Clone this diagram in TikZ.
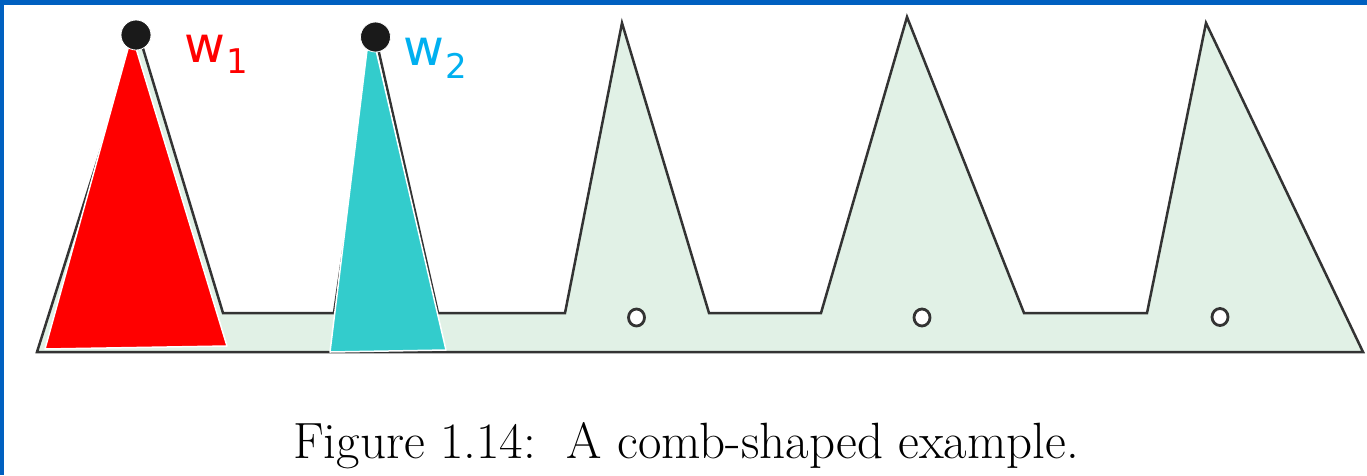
\documentclass[tikz,border=0pt]{standalone}
\usepackage{fontspec}
\newfontfamily\labelfont{DejaVu Sans}
\definecolor{frameblue}{HTML}{0060C0}
\definecolor{combfill}{HTML}{E1F1E6}
\definecolor{combline}{HTML}{333333}
\definecolor{redw}{HTML}{FF0000}
\definecolor{cyanw}{HTML}{33CCCC}
\definecolor{cyantext}{HTML}{00B0F0}
\definecolor{dotblack}{HTML}{1A1A1A}
\tikzset{
  comb/.style={fill=combfill, draw=combline, line width=2.5pt, line join=miter},
  hole/.style={fill=white, draw=combline, line width=2.8pt},
  wtri/.style={draw=white, line width=1.5pt, line join=round},
  vdot/.style={fill=dotblack, draw=white, line width=0.8pt},
  wlabel/.style={anchor=base west, inner sep=0pt},
}
\begin{document}
\begin{tikzpicture}[x=1pt,y=-1pt]
\useasboundingbox (0,0) rectangle (1367,475);
\fill[white] (0,0) rectangle (1367,475);
% frame
\fill[frameblue] (0,0) rectangle (1367,5);
\fill[frameblue] (0,0) rectangle (4,475);
% comb
\draw[comb] (37,352) -- (138,32) -- (223,313) -- (334,313) -- (375,35) -- (438,313)
  -- (565,313) -- (622,23) -- (709,313) -- (821,313) -- (907,17) -- (1024,313)
  -- (1147,313) -- (1206,23) -- (1363,352) -- cycle;
% holes
\draw[hole] (636.5,317.5) ellipse [x radius=8pt, y radius=8.5pt];
\draw[hole] (922,317.5) ellipse [x radius=8pt, y radius=8.5pt];
\draw[hole] (1220,317) ellipse [x radius=8pt, y radius=8.5pt];
% coloured triangles
\filldraw[wtri, fill=redw] (45,349) -- (129,45) -- (135,45) -- (227,346) -- cycle;
\filldraw[wtri, fill=cyanw] (330,352) -- (367,50) -- (376,50) -- (446,350) -- cycle;
% dots
\draw[vdot] (136,35) circle [radius=15pt];
\draw[vdot] (375.5,37) circle [radius=15pt];
% labels
\node[wlabel, text=redw] (w1) at (184,62)
  {\labelfont\fontsize{50}{60}\selectfont w\kern1pt\raisebox{-11pt}{\fontsize{34}{42}\selectfont 1}};
\node[wlabel, text=cyantext] (w2) at (403,65)
  {\labelfont\fontsize{50}{60}\selectfont w\kern1pt\raisebox{-13pt}{\fontsize{34}{42}\selectfont 2}};
% caption
\node[anchor=base west, inner sep=0pt] (cap) at (293,458)
  {\fontsize{51}{60}\selectfont Figure 1.14:\ \ A comb-shaped example.};
\end{tikzpicture}
\end{document}
